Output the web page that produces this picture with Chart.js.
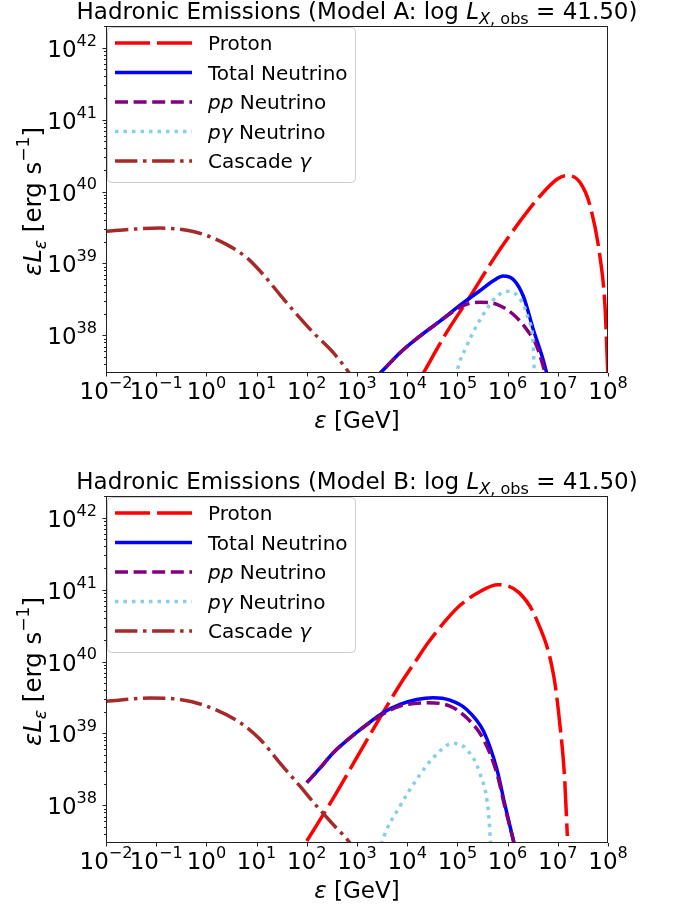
<!DOCTYPE html>
<html lang="en">
<head>
<meta charset="utf-8" />
<title>Hadronic Emissions</title>
<script src="https://cdn.jsdelivr.net/npm/chart.js@4.4.0/dist/chart.umd.min.js"></script>
<style>
    body { margin: 0; background: #fff; }
    #wrap { position: relative; width: 673px; height: 908px; }
    canvas { position: absolute; left: 0; }
    #chartA { top: 0; }
    #chartB { top: 470px; }
</style>
</head>
<body>
<div id="wrap">
    <canvas id="chartA" width="673" height="470"></canvas>
    <canvas id="chartB" width="673" height="438"></canvas>
</div>
<script>
// tick exponents
const xTickExp = [-2, -1, 0, 1, 2, 3, 4, 5, 6, 7, 8];
const yTickExp = [38, 39, 40, 41, 42];

// ---- Model A (energy in GeV, luminosity in erg/s)
const protonA_E = [2.1e4, 6.1e4, 1.8e5, 5.2e5, 1.5e6, 4.4e6, 9.5e6, 1.5e7, 2.8e7, 4.4e7, 6.9e7, 8.7e7, 1.0e8];
const protonA_L = [3.0e37, 1.1e38, 3.5e38, 1.14e39, 3.3e39, 8.6e39, 1.47e40, 1.67e40, 1.32e40, 6.3e39, 1.26e39, 2.6e38, 2.5e37];
const totalA_E = [2.0e3, 2.9e3, 7.2e3, 1.8e4, 4.5e4, 1.13e5, 2.8e5, 5.2e5, 8.2e5, 1.3e6, 2.06e6, 3.25e6, 5.1e6, 6.0e6, 7.1e6];
const totalA_L = [2.4e37, 3.0e37, 5.75e37, 9.8e37, 1.58e38, 2.63e38, 4.17e38, 5.75e38, 6.7e38, 6.0e38, 3.5e38, 1.21e38, 4.6e37, 3.0e37, 1.9e37];
const ppA_E = [2.0e3, 2.9e3, 7.2e3, 1.8e4, 4.5e4, 7.1e4, 1.3e5, 2.8e5, 6.1e5, 1.3e6, 2.4e6, 3.8e6, 5.6e6, 6.6e6];
const ppA_L = [2.4e37, 3.0e37, 5.75e37, 9.8e37, 1.58e38, 2.0e38, 2.6e38, 2.9e38, 2.7e38, 1.95e38, 1.21e38, 7.1e37, 3.0e37, 2.0e37];
const pgA_E = [8.9e4, 9.7e4, 1.53e5, 2.4e5, 3.8e5, 6.1e5, 1.03e6, 1.77e6, 2.6e6, 3.25e6, 3.4e6, 3.5e6];
const pgA_L = [2.0e37, 3.0e37, 7.1e37, 1.35e38, 2.3e38, 3.5e38, 4.1e38, 3.2e38, 1.67e38, 7.1e37, 3.0e37, 2.0e37];
const cascadeA_E = [1e-2, 3.5e-2, 0.12, 0.41, 1.0, 2.5, 6.4, 13.6, 29, 63, 135, 337, 703, 1000];
const cascadeA_L = [2.8e39, 3.0e39, 3.1e39, 2.9e39, 2.45e39, 1.84e39, 1.2e39, 7.0e38, 3.7e38, 1.96e38, 1.09e38, 5.75e37, 3.0e37, 2.1e37];

// ---- Model B
const protonB_E = [100, 337, 843, 2.87e3, 7.2e3, 1.55e4, 2.74e4, 1.09e5, 2.9e5, 6.4e5, 1.71e6, 3.8e6, 8.3e6, 1.11e7, 1.36e7, 1.55e7];
const protonB_L = [3.2e37, 1.26e38, 3.8e38, 1.66e39, 4.8e39, 1.07e40, 1.91e40, 5.9e40, 9.5e40, 1.17e41, 9.0e40, 3.8e40, 6.3e39, 1.26e39, 2.55e38, 3.75e37];
const totalB_E = [100, 183, 337, 726, 1.56e3, 3.3e3, 7.2e3, 1.55e4, 3.3e4, 7.1e4, 1.53e5, 3.3e5, 6.1e5, 8.9e5, 1.34e6, 1.58e6];
const totalB_L = [2.07e38, 3.3e38, 5.4e38, 8.7e38, 1.33e39, 1.94e39, 2.53e39, 2.96e39, 3.13e39, 2.9e39, 2.15e39, 1.08e39, 3.2e38, 1.0e38, 3.0e37, 1.8e37];
const ppB_E = [100, 183, 337, 726, 1.56e3, 3.3e3, 7.2e3, 2.44e4, 7.1e4, 1.53e5, 3.3e5, 6.1e5, 8.9e5, 1.34e6, 1.58e6];
const ppB_L = [2.07e38, 3.3e38, 5.4e38, 8.7e38, 1.32e39, 1.86e39, 2.4e39, 2.67e39, 2.4e39, 1.65e39, 8.3e38, 2.8e38, 9.3e37, 3.0e37, 1.8e37];
const pgB_E = [2.8e3, 3.1e3, 7.2e3, 1.55e4, 3.3e4, 8.3e4, 1.53e5, 2.8e5, 4.1e5, 4.6e5, 4.8e5];
const pgB_L = [2.2e37, 3.0e37, 9.8e37, 2.3e38, 4.6e38, 7.3e38, 6.0e38, 2.8e38, 8.8e37, 3.0e37, 2.0e37];
const cascadeB_E = [1e-2, 7.5e-2, 0.26, 1.0, 4.7, 11.7, 29, 73, 157, 337, 726, 1000];
const cascadeB_L = [2.8e39, 3.1e39, 3.0e39, 2.4e39, 1.41e39, 8.3e38, 3.9e38, 1.85e38, 9.8e37, 5.4e37, 3.0e37, 2.1e37];

const FONT = '"DejaVu Sans"';
const LW = 3.5;
const FS = 23;      // ticks, labels, title
const FS_YLAB = 24.5;
const FS_LEG = 20;  // legend

// draw a run of text pieces (italic / sub / sup) like matplotlib mathtext
function runFont(s, size) {
    const sz = (s.sub || s.sup) ? size * 0.7 : size;
    return (s.it ? 'italic ' : '') + sz + 'px ' + FONT;
}
function drawRich(ctx, segs, x, y, size, align) {
    let w = 0;
    segs.forEach(s => { ctx.font = runFont(s, size); w += ctx.measureText(s.t).width; });
    let cx = align === 'center' ? x - w / 2 : (align === 'right' ? x - w : x);
    ctx.textAlign = 'left';
    ctx.textBaseline = 'alphabetic';
    segs.forEach(s => {
        ctx.font = runFont(s, size);
        let dy = 0;
        if (s.sub) dy = size * 0.22;
        if (s.sup) dy = -size * 0.48;
        ctx.fillText(s.t, cx, y + dy);
        cx += ctx.measureText(s.t).width;
    });
}

const decor = {
    id: 'decor',
    afterDatasetsDraw(chart, args, opts) {
        const ctx = chart.ctx;
        const a = chart.chartArea;
        const xs = chart.scales.x, ys = chart.scales.y;
        ctx.save();
        ctx.fillStyle = '#000';

        // frame
        ctx.strokeStyle = '#222';
        ctx.lineWidth = 1;
        ctx.strokeRect(a.left + 0.5, a.top + 0.5, a.right - a.left - 1, a.bottom - a.top - 1);

        // ticks
        ctx.beginPath();
        xTickExp.forEach(e => {
            const px = Math.round(xs.getPixelForValue(Math.pow(10, e))) + 0.5;
            ctx.moveTo(px, a.bottom);
            ctx.lineTo(px, a.bottom + 3.5);
        });
        for (let e = 37; e <= 42; e++) {
            for (let m = 1; m <= 9; m++) {
                const v = m * Math.pow(10, e);
                if (v < ys.min || v > ys.max) continue;
                const py = Math.round(ys.getPixelForValue(v)) + 0.5;
                ctx.moveTo(a.left, py);
                ctx.lineTo(a.left - (m === 1 ? 3.5 : 2), py);
            }
        }
        ctx.stroke();

        // tick labels
        xTickExp.forEach(e => {
            const px = xs.getPixelForValue(Math.pow(10, e));
            const ex = e < 0 ? '\u2212' + (-e) : String(e);
            drawRich(ctx, [{ t: '10' }, { t: ex, sup: true }], px, a.bottom + 26, FS, 'center');
        });
        yTickExp.forEach(e => {
            const py = ys.getPixelForValue(Math.pow(10, e));
            drawRich(ctx, [{ t: '10' }, { t: String(e), sup: true }], a.left - 9, py + 9, FS, 'right');
        });

        // axis labels
        const cxm = (a.left + a.right) / 2;
        drawRich(ctx, [{ t: '\u03b5', it: true }, { t: ' [GeV]' }], cxm, a.bottom + 55, FS, 'center');
        ctx.save();
        ctx.translate(41, (a.top + a.bottom) / 2 + 2);
        ctx.rotate(-Math.PI / 2);
        drawRich(ctx, [{ t: '\u03b5', it: true }, { t: 'L', it: true }, { t: '\u03b5', it: true, sub: true },
            { t: ' [erg s' }, { t: '\u22121', sup: true }, { t: ']' }], 0, 0, FS_YLAB, 'center');
        ctx.restore();

        // title
        drawRich(ctx, [{ t: 'Hadronic Emissions (Model ' + opts.model + ': log ' }, { t: 'L', it: true },
            { t: 'X', it: true, sub: true }, { t: ', obs', sub: true }, { t: ' = 41.50)' }], cxm, a.top - 7, FS, 'center');

        // legend box
        const lx = a.left + 1, ly = a.top + 1, lw = 248, lh = 155;
        ctx.beginPath();
        ctx.roundRect(lx + 0.5, ly + 0.5, lw, lh, 4);
        ctx.fillStyle = 'rgba(255,255,255,0.8)';
        ctx.fill();
        ctx.strokeStyle = '#cccccc';
        ctx.stroke();
        chart.data.datasets.forEach((ds, i) => {
            const ry = a.top + 17 + i * 29.5;
            ctx.beginPath();
            ctx.setLineDash(ds.borderDash || []);
            ctx.lineWidth = ds.borderWidth;
            ctx.strokeStyle = ds.borderColor;
            ctx.moveTo(a.left + 9, ry);
            ctx.lineTo(a.left + 86, ry);
            ctx.stroke();
            ctx.setLineDash([]);
            ctx.fillStyle = '#000';
            drawRich(ctx, ds.legendText, a.left + 102, ry + 7, FS_LEG, 'left');
        });
        ctx.restore();
    }
};

function pts(E, L) {
    return E.map((e, i) => ({ x: e, y: L[i] }));
}

function line(label, legendText, E, L, color, dash, order) {
    return {
        label: label,
        legendText: legendText,
        data: pts(E, L),
        borderColor: color,
        backgroundColor: color,
        borderWidth: LW,
        borderDash: dash,
        pointRadius: 0,
        cubicInterpolationMode: 'monotone',
        clip: 0,
        order: order
    };
}

function makeChart(id, model, s, h) {
    return new Chart(document.getElementById(id), {
        type: 'line',
        data: {
            datasets: [
                line('Proton', [{ t: 'Proton' }], s.pE, s.pL, '#ff0000', [35, 7], 5),
                line('Total Neutrino', [{ t: 'Total Neutrino' }], s.tE, s.tL, '#0000ff', [], 4),
                line('pp Neutrino', [{ t: 'pp', it: true }, { t: ' Neutrino' }], s.ppE, s.ppL, '#800080', [13, 5.6], 3),
                line('p\u03b3 Neutrino', [{ t: 'p\u03b3', it: true }, { t: ' Neutrino' }], s.pgE, s.pgL, '#87ceeb', [3.5, 5], 2),
                line('Cascade \u03b3', [{ t: 'Cascade ' }, { t: '\u03b3', it: true }], s.cE, s.cL, '#a52a2a', [22.4, 5.6, 3.5, 5.6], 1)
            ]
        },
        options: {
            responsive: false,
            animation: false,
            layout: { padding: { left: 106, right: 65, top: 26, bottom: h - 373 } },
            scales: {
                x: { type: 'logarithmic', min: 1e-2, max: 1e8, display: false },
                y: { type: 'logarithmic', min: 3e37, max: 2e42, display: false }
            },
            plugins: {
                legend: { display: false },
                title: { display: false },
                tooltip: { enabled: false },
                decor: { model: model }
            }
        },
        plugins: [decor]
    });
}

makeChart('chartA', 'A', {
    pE: protonA_E, pL: protonA_L, tE: totalA_E, tL: totalA_L, ppE: ppA_E, ppL: ppA_L,
    pgE: pgA_E, pgL: pgA_L, cE: cascadeA_E, cL: cascadeA_L
}, 470);
makeChart('chartB', 'B', {
    pE: protonB_E, pL: protonB_L, tE: totalB_E, tL: totalB_L, ppE: ppB_E, ppL: ppB_L,
    pgE: pgB_E, pgL: pgB_L, cE: cascadeB_E, cL: cascadeB_L
}, 438);
</script>
</body>
</html>
